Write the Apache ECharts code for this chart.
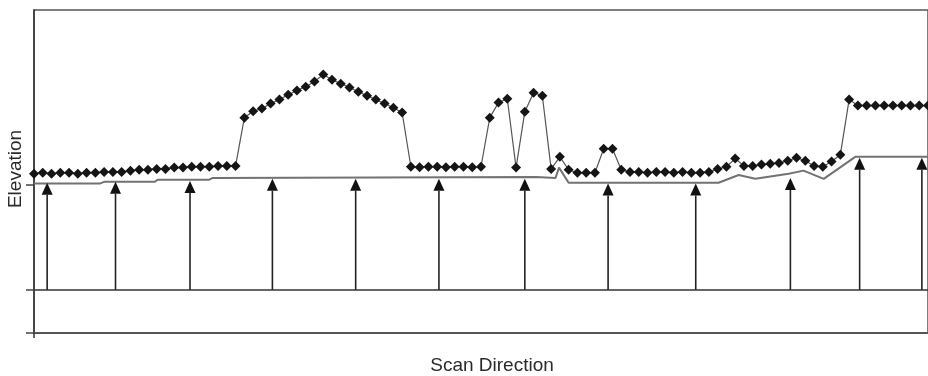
<!DOCTYPE html>
<html>
<head>
<meta charset="utf-8">
<script src="https://cdn.jsdelivr.net/npm/echarts@6/dist/echarts.min.js"></script>
<style>
  html, body { margin: 0; padding: 0; background: #fff; }
  #chart { width: 928px; height: 376px; }
</style>
</head>
<body>
<div id="chart"></div>
<script>
// Scanned surface elevation, one value per scan sample (x = sample index)
const surfaceElevation = [
  2.70, 2.72, 2.70, 2.72, 2.72, 2.70, 2.72, 2.72, 2.74, 2.74, 2.74, 2.77,
  2.79, 2.79, 2.81, 2.81, 2.84, 2.84, 2.86, 2.86, 2.86, 2.88, 2.88, 2.88,
  4.00, 4.15, 4.21, 4.33, 4.42, 4.53, 4.63, 4.72, 4.84, 5.00,
  4.88, 4.79, 4.70, 4.60, 4.51, 4.42, 4.33, 4.23, 4.12,
  2.86, 2.85, 2.86, 2.86, 2.85, 2.86, 2.86, 2.85, 2.86,
  4.00, 4.35, 4.44, 2.84, 4.14, 4.58, 4.51, 2.81, 3.09, 2.79,
  2.72, 2.72, 2.72, 3.28, 3.28, 2.79,
  2.74, 2.74, 2.72, 2.74, 2.74, 2.72, 2.74, 2.72, 2.72, 2.74, 2.81,
  2.86, 3.05, 2.88, 2.88, 2.91, 2.93, 2.95, 3.00, 3.07, 3.00, 2.88, 2.86, 2.98, 3.14,
  4.42, 4.28, 4.28, 4.28, 4.28, 4.28, 4.28, 4.28, 4.28, 4.28
];

// Ground profile (break points)
const groundX    = [0, 7.5, 8.0, 13.8, 14.1, 20.0, 20.4, 57.3, 59.5, 59.9, 61.0, 78.1, 80.4, 82.3, 86.1, 87.8, 90.1, 93.7, 102];
const groundElev = [2.47, 2.47, 2.51, 2.51, 2.56, 2.56, 2.60, 2.62, 2.60, 2.84, 2.49, 2.49, 2.67, 2.58, 2.70, 2.77, 2.58, 3.09, 3.09];

// Vertical scan arrows: position and tip elevation
const arrowX   = [1.5, 9.3, 17.8, 27.2, 36.7, 46.2, 56.0, 65.5, 75.5, 86.3, 94.2, 101.3];
const arrowTip = [2.49, 2.51, 2.53, 2.58, 2.58, 2.58, 2.58, 2.47, 2.47, 2.60, 3.07, 3.07];

const yTicks = [-1, 0, 2.44];

const FONT = '"Liberation Sans", Arial, sans-serif';
const chart = echarts.init(document.getElementById('chart'), null, { renderer: 'canvas' });

chart.setOption({
  animation: false,
  backgroundColor: '#fff',
  grid: {
    left: 34, top: 10, right: -2, bottom: 43,
    show: true, borderColor: '#555', borderWidth: 1.5, backgroundColor: 'transparent'
  },
  xAxis: {
    type: 'value', min: 0, max: 102,
    axisLine: { show: true, onZero: false, lineStyle: { color: '#555', width: 2 } },
    axisTick: { show: true, customValues: [0], length: 5, lineStyle: { color: '#333', width: 1.5 } },
    axisLabel: { show: false },
    splitLine: { show: false }
  },
  yAxis: {
    type: 'value', min: -1, max: 6.5,
    axisLine: { show: true, onZero: false, lineStyle: { color: '#333', width: 1.5 } },
    axisTick: { show: true, customValues: yTicks, length: 8, lineStyle: { color: '#444', width: 1.5 } },
    axisLabel: { show: false },
    splitLine: { show: false }
  },
  graphic: [
    {
      type: 'text', x: 492, y: 366,
      style: { text: 'Scan Direction', font: '19px ' + FONT, fill: '#2a2a2a', align: 'center', verticalAlign: 'middle' }
    },
    {
      type: 'text', x: 16, y: 169, rotation: Math.PI / 2,
      style: { text: 'Elevation', font: '19px ' + FONT, fill: '#2a2a2a', align: 'center', verticalAlign: 'middle' }
    }
  ],
  series: [
    {
      name: 'ground',
      type: 'line',
      data: groundX.map((x, i) => [x, groundElev[i]]),
      showSymbol: false,
      lineStyle: { color: '#727272', width: 2 },
      z: 2,
      markLine: {
        silent: true, symbol: 'none', label: { show: false },
        lineStyle: { color: '#333', width: 1.5, type: 'solid' },
        data: [{ yAxis: 0 }]
      }
    },
    {
      name: 'arrows',
      type: 'custom',
      data: arrowX.map((x, i) => [x, arrowTip[i]]),
      encode: { x: 0, y: 1 },
      z: 3,
      renderItem(params, api) {
        const x = api.value(0);
        const base = api.coord([x, 0]);
        const tip = api.coord([x, api.value(1)]);
        const w = 5.5, h = 12;
        return {
          type: 'group',
          children: [
            { type: 'line', shape: { x1: base[0], y1: base[1], x2: tip[0], y2: tip[1] + h },
              style: { stroke: '#222', lineWidth: 1.6 } },
            { type: 'polygon', shape: { points: [[tip[0], tip[1]], [tip[0] - w, tip[1] + h], [tip[0] + w, tip[1] + h]] },
              style: { fill: '#111' } }
          ]
        };
      }
    },
    {
      name: 'surface',
      type: 'line',
      data: surfaceElevation.map((v, i) => [i, v]),
      symbol: 'diamond',
      symbolSize: [10, 10],
      itemStyle: { color: '#151515' },
      lineStyle: { color: '#555', width: 1.2 },
      z: 4
    }
  ]
});
</script>
</body>
</html>
